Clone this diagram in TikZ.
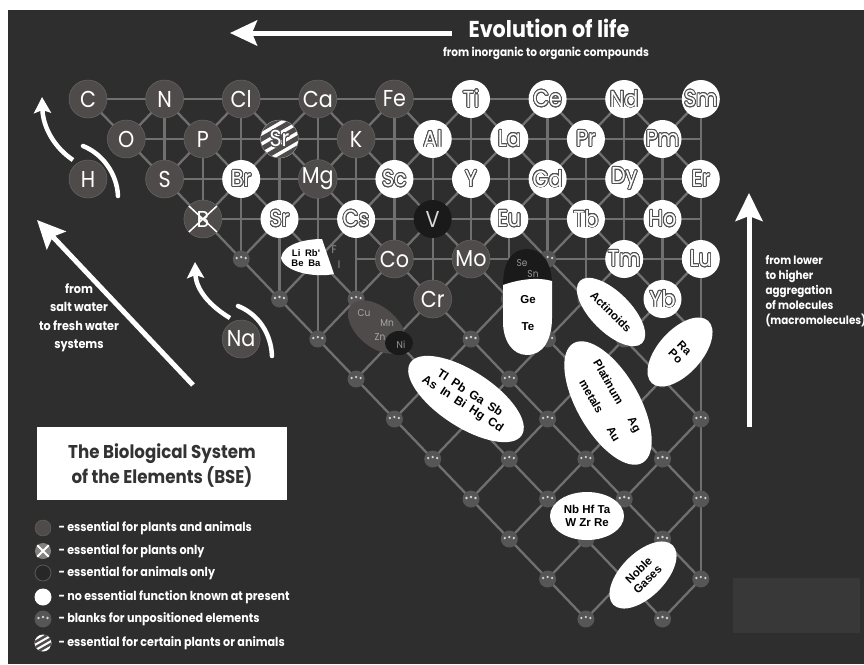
\documentclass[tikz,border=0pt]{standalone}
\usepackage{fontspec}
\usepackage{contour}
\setmainfont{Poppins}[FakeStretch=0.9]
\newfontfamily\arial{Liberation Sans}
\usetikzlibrary{arrows.meta,shapes.geometric}
\contourlength{0.8pt}
\contournumber{24}
\definecolor{bgc}{RGB}{46,46,46}
\definecolor{bglc}{RGB}{56,56,56}
\definecolor{dballc}{RGB}{80,75,75}
\definecolor{vballc}{RGB}{26,26,26}
\definecolor{latc}{RGB}{112,112,112}
\definecolor{blankc}{RGB}{86,86,86}
\definecolor{outlc}{RGB}{80,80,80}
\definecolor{dimtxt}{RGB}{150,150,150}
\newcommand{\olt}[1]{\contour{outlc}{#1}}
\tikzset{
  lat/.style={draw=latc,line width=2.3pt},
  ball/.style={circle,minimum size=38pt,inner sep=0pt,font=\fontsize{23}{23}\selectfont},
  dk/.style={ball,fill=dballc,draw=black!60,line width=0.5pt,text=white},
  wh/.style={ball,fill=white,text=white},
  vb/.style={ball,fill=vballc,text=white!85!black},
  blk/.style={circle,minimum size=17pt,inner sep=0pt,fill=blankc,
    path picture={
      \fill[gray!35] ([shift={(-4.5,-1)}]path picture bounding box.center) circle (1.3pt);
      \fill[gray!35] ([shift={(0,-2)}]path picture bounding box.center) circle (1.3pt);
      \fill[gray!35] ([shift={(4.5,-1)}]path picture bounding box.center) circle (1.3pt);}},
  warr/.style={draw=white,line width=5pt},
  oval/.style={ellipse,fill=white,inner sep=0pt,align=center,text=black,font=\arial\bfseries\fontsize{11.5}{12.5}\selectfont},
  ovtxt/.style={inner sep=0pt,align=center,text=black,font=\arial\bfseries\fontsize{11.5}{12.5}\selectfont},
  lbl/.style={text=white,font=\bfseries\fontsize{11.5}{15}\selectfont},
  dim/.style={inner sep=0pt,text=dimtxt,font=\fontsize{10}{10}\selectfont},
}
\begin{document}
\begin{tikzpicture}[x=1pt,y=-1pt]
\useasboundingbox (0,0) rectangle (864,664);
\fill[white] (0,0) rectangle (864,664);
\fill[bgc] (8,10) rectangle (864,664);
\fill[bglc] (733,578) rectangle (860,633);
% lattice coordinates
\foreach \i in {0,...,16}{\foreach \j in {0,...,13}{\coordinate (p-\i-\j) at ({88+38.3*\i},{99+40*\j});}}
% horizontal and vertical grid lines
\foreach \j in {0,...,3}{\draw[lat] (p-\j-\j) -- (p-16-\j);}
\draw[lat] (p-7-4) -- (p-16-4);
\foreach \i/\a/\b in {2/0/2,3/1/3,4/0/4,5/1/5,6/0/6,7/1/5,8/0/4,9/1/5,10/0/4,11/1/5,12/0/4,13/1/5,14/0/4,15/1/5,16/0/12}{\draw[lat] (p-\i-\a) -- (p-\i-\b);}
% diagonals
\foreach \j in {0,...,12}{
  \foreach \i in {\j,...,16}{
    \pgfmathtruncatemacro{\pp}{mod(\i+\j,2)}
    \ifnum\pp=0
      \pgfmathtruncatemacro{\jn}{\j+1}
      \pgfmathtruncatemacro{\ip}{\i+1}
      \pgfmathtruncatemacro{\im}{\i-1}
      \ifnum\i<16 \draw[lat] (p-\i-\j) -- (p-\ip-\jn);\fi
      \ifnum\i>\numexpr\j+1\relax \draw[lat] (p-\i-\j) -- (p-\im-\jn);\fi
    \fi
  }
}
% blanks
\foreach \j in {0,...,13}{
  \foreach \i in {\j,...,16}{
    \pgfmathtruncatemacro{\pp}{mod(\i+\j,2)}
    \ifnum\pp=0 \node[blk] (b-\i-\j) at (p-\i-\j) {};\fi
  }
}
% dark elements
\foreach \n/\i/\j in {C/0/0,N/2/0,Cl/4/0,Ca/6/0,Fe/8/0,O/1/1,P/3/1,K/7/1,H/0/2,S/2/2,Mg/6/2,Co/8/4,Mo/10/4,Cr/9/5,Na/4/6}{
  \node[dk] (\n) at (p-\i-\j) {\n};}
\node[dk] (B) at (p-3-3) {};
\draw[white,line width=1.5pt] ([shift={(-14,-13)}]B.center) -- ([shift={(14,13)}]B.center);
\draw[white,line width=1.5pt] ([shift={(14,-13)}]B.center) -- ([shift={(-14,13)}]B.center);
\node[ball,text=white] (Bt) at (p-3-3) {B};
\node[vb] (V) at (p-9-3) {V};
% white elements
\foreach \n/\i/\j in {Ti/10/0,Ce/12/0,Nd/14/0,Sm/16/0,Al/9/1,La/11/1,Pr/13/1,Pm/15/1,Br/4/2,Sc/8/2,Y/10/2,Gd/12/2,Dy/14/2,Er/16/2,Sr/5/3,Cs/7/3,Eu/11/3,Tb/13/3,Ho/15/3,Tm/14/4,Lu/16/4,Yb/15/5}{
  \node[wh] (w\n) at (p-\i-\j) {\olt{\n}};}
% striped Sr
\begin{scope}
\clip (p-5-1) circle (19pt);
\fill[white] (p-5-1) circle (19pt);
\foreach \k in {-2,...,2}{\draw[dballc,line width=5pt] ([shift={(-32,{\k*10+18})}]p-5-1) -- ++(64,-37);}
\end{scope}
\node[ball,text=white,draw=gray,line width=0.5pt] (Sr1) at (p-5-1) {\olt{Sr}};
% Li Rb Be Ba shape
\fill[white] (281,258) .. controls (283,244) and (305,239) .. (322,239) -- (334,274) .. controls (315,278) and (284,272) .. cycle;
\node[ovtxt,font=\arial\bfseries\fontsize{9.5}{10.5}\selectfont] (LiRb) at (306,258) {Li\enspace Rb'\\Be\enspace Ba};
\node[dim,font=\fontsize{11}{11}\selectfont] (F) at (334,250) {F};
\node[dim,font=\fontsize{11}{11}\selectfont] (I) at (339,265) {I};
% Cu Mn Zn Ni blob
\node[ellipse,fill=dballc,minimum width=68pt,minimum height=40pt,rotate=-40] (CuB) at (377,327) {};
\node[ellipse,fill=vballc,minimum width=28pt,minimum height=24pt] (NiB) at (399,343) {};
\node[dim,text=white!65!black] (Cu) at (364,313) {Cu};
\node[dim,text=white!65!black] (Mn) at (387,323) {Mn};
\node[dim,text=white!65!black] (Zn) at (380,337) {Zn};
\node[dim] (Ni) at (401,345) {Ni};
% Ge Te capsule
\fill[vballc] (503,285) .. controls (503,262) and (512,249) .. (527,249) .. controls (542,249) and (551,262) .. (552,282) -- (552,318) .. controls (552,340) and (543,355) .. (527,355) .. controls (512,355) and (503,340) .. (503,322) -- cycle;
\fill[white] (503,285) .. controls (520,279) and (538,277) .. (552,281) -- (552,318) .. controls (552,340) and (543,355) .. (527,355) .. controls (512,355) and (503,340) .. (503,322) -- cycle;
\node[dim] (Se) at (522,263) {Se};
\node[dim] (Sn) at (533,274) {Sn};
\node[ovtxt] (Ge) at (528,300) {Ge};
\node[ovtxt] (Te) at (528,327) {Te};
% ovals
\node[oval,minimum width=88pt,minimum height=40pt,rotate=-45] (Act) at (611,312) {Actinoids};
\node[oval,minimum width=84pt,minimum height=44pt,rotate=48] (RaPo) at (680,352) {};
\node[ovtxt,rotate=-45] (RaPoT) at (680,352) {Ra\\Po};
\node[oval,minimum width=124pt,minimum height=56pt,rotate=-33,font=\arial\bfseries\fontsize{12}{13}\selectfont] (Tl) at (466,399) {Tl\enspace Pb\enspace Ga\enspace Sb\\As\enspace In\enspace Bi\enspace Hg\enspace Cd};
\node[oval,minimum width=138pt,minimum height=62pt,rotate=-60] (Pt) at (608,403) {};
\begin{scope}[shift={(608,403)},rotate=-60]
\node[ovtxt,rotate=-60] (Plat) at (-18,-11) {Platinum};
\node[ovtxt,rotate=-60] (Ag) at (32,-11) {Ag};
\node[ovtxt,rotate=-60] (met) at (-14,11) {metals};
\node[ovtxt,rotate=-60] (Au) at (30,11) {Au};
\end{scope}
\node[oval,minimum width=74pt,minimum height=48pt] (Nb) at (587,516) {Nb Hf Ta\\W Zr Re};
\node[oval,minimum width=84pt,minimum height=44pt,rotate=45] (Noble) at (643,575) {Noble\\Gases};
% arrows
\coordinate (ta1) at (452,33); \coordinate (ta2) at (230,33);
\draw[warr,-{Stealth[length=27pt,width=25pt,inset=5pt]}] (ta1) -- (ta2);
\coordinate (ra1) at (749,427); \coordinate (ra2) at (749,193);
\draw[warr,-{Stealth[length=28pt,width=27pt,inset=5pt]}] (ra1) -- (ra2);
\coordinate (la1) at (193,385); \coordinate (la2) at (37,220);
\draw[warr,-{Stealth[length=28pt,width=26pt,inset=5pt]}] (la1) -- (la2);
\coordinate (ha1) at (73,160); \coordinate (ha2) at (42,97);
\draw[white,line width=4.5pt,-{Stealth[length=16pt,width=17pt,inset=3pt]}] (ha1) .. controls (55,148) and (43,128) .. (ha2);
\coordinate (hb1) at (83,146); \coordinate (hb2) at (118,196);
\draw[white,line width=4.5pt,line cap=round] (hb1) .. controls (103,154) and (117,174) .. (hb2);
\coordinate (na1) at (230,318); \coordinate (na2) at (195,262);
\draw[white,line width=4.5pt,-{Stealth[length=16pt,width=17pt,inset=3pt]}] (na1) .. controls (210,306) and (196,290) .. (na2);
\coordinate (nb1) at (238,306); \coordinate (nb2) at (272,356);
\draw[white,line width=4.5pt,line cap=round] (nb1) .. controls (258,314) and (271,333) .. (nb2);
% texts
\node[text=white,font=\bfseries\fontsize{23}{23}\selectfont] (evo) at (549,28) {Evolution of life};
\node[text=white,font=\bfseries\fontsize{11.7}{11.7}\selectfont] (evo2) at (546,53) {from inorganic to organic compounds};
\node[lbl,align=left,anchor=north west] (agg) at (762,252) {from lower\\to higher\\aggregation\\of molecules\\(macromolecules)};
\node[lbl,align=center,font=\bfseries\fontsize{12.5}{18.5}\selectfont] (salt) at (79,318) {from\\salt water\\to fresh water\\systems};
% legend
\node[fill=white,minimum width=250pt,minimum height=73pt,inner sep=0pt] (box) at (162,463.5) {};
\node[align=center,text=black!80,font=\bfseries\fontsize{18.5}{25}\selectfont] (boxt) at (162,466) {The Biological System\\of the Elements (BSE)};
\node[circle,minimum size=16pt,inner sep=0pt,fill=dballc,draw=black!60] (L1) at (43,528) {};
\node[circle,minimum size=16pt,inner sep=0pt,fill=dballc!70!white] (L2) at (43,551) {};
\draw[white,line width=1.8pt] (L2.north west) -- (L2.south east) (L2.north east) -- (L2.south west);
\node[circle,minimum size=16pt,inner sep=0pt,fill=bgc!85!black,draw=gray!70!black,line width=0.8pt] (L3) at (43,573) {};
\node[circle,minimum size=17pt,inner sep=0pt,fill=white] (L4) at (43,597) {};
\node[blk] (L5) at (43,619) {};
\begin{scope}
\clip (43,643) circle (8.5pt);
\fill[white] (43,643) circle (8.5pt);
\foreach \k in {-1,...,1}{\draw[dballc,line width=2.5pt] ([shift={(-14,{\k*5.5+8})}]43,643) -- ++(28,-16);}
\end{scope}
\node[circle,minimum size=17pt,inner sep=0pt] (L6) at (43,643) {};
\foreach \t/\y/\n in {{- essential for plants and animals}/528/1,{- essential for plants only}/551/2,{- essential for animals only}/573/3,{- no essential function known at present}/597/4,{- blanks for unpositioned elements}/619/5,{- essential for certain plants or animals}/643/6}{
  \node[lbl,anchor=west,font=\bfseries\fontsize{12.4}{15}\selectfont] (T\n) at (55,\y) {\t};}
\end{tikzpicture}
\end{document}
